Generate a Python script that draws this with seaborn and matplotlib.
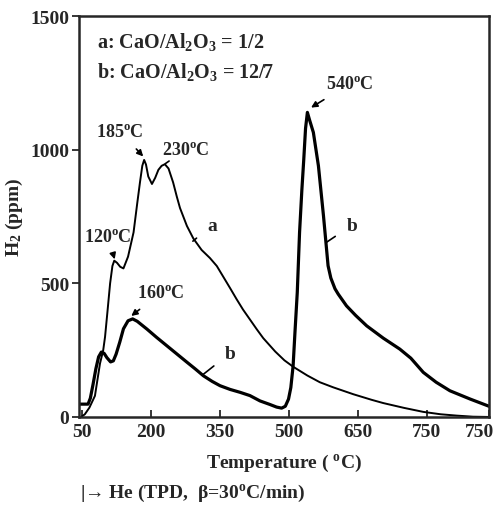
import numpy as np
import pandas as pd
import matplotlib
matplotlib.use("Agg")
import matplotlib.pyplot as plt
import matplotlib.transforms as mtransforms
import seaborn as sns

# TPD profiles of H2 (ppm) versus temperature
temp_a = [48, 56, 66, 78, 89, 96, 100, 105, 111, 116, 120, 126, 133, 140, 150,
          162, 170, 176, 181, 185, 189, 194, 202, 209, 216, 223, 230, 238, 248,
          256, 263, 278, 292, 310, 328, 343, 357, 372, 386, 400, 415, 430, 444,
          470, 490, 509, 540, 567, 596, 640, 680, 705, 750, 792, 830, 865, 900, 935]
h2_a = [0, 10, 35, 79, 200, 250, 300, 390, 500, 565, 585, 577, 562, 556, 600,
        691, 800, 879, 940, 962, 945, 900, 872, 895, 925, 940, 946, 930, 878,
        825, 782, 715, 668, 625, 595, 565, 525, 482, 441, 402, 365, 328, 295,
        245, 212, 188, 155, 130, 111, 85, 64, 52, 34, 19, 10, 5, 1, 0]

temp_b = [43, 63, 68, 74, 80, 86, 92, 98, 104, 112, 118, 124, 132, 140, 150,
          160, 170, 191, 212, 234, 256, 278, 296, 314, 333, 350, 372, 394, 415,
          437, 458, 473, 484, 492, 499, 504, 509, 513, 518, 523, 528, 532, 536,
          540, 545, 553, 564, 575, 585, 591, 600, 607, 625, 645, 669, 705, 741,
          765, 792, 820, 850, 894, 935]
h2_b = [48, 48, 70, 123, 180, 225, 243, 238, 222, 206, 210, 235, 280, 330, 360,
        367, 358, 329, 298, 267, 236, 205, 180, 154, 133, 117, 103, 92, 80,
        60, 47, 37, 33, 40, 67, 110, 192, 317, 466, 691, 850, 960, 1080,
        1140, 1110, 1065, 940, 753, 566, 520, 480, 460, 416, 380, 341, 295, 254,
        220, 167, 130, 98, 67, 40]

x_tick_labels = ["50", "200", "350", "500", "650", "750", "750"]
y_ticks = [0, 500, 1000, 1500]

peak_notes = [  # (text, text position, arrow tip)
    ("185$^{o}$C", (132, 1070), (183, 975)),
    ("120$^{o}$C", (106, 676), (121, 590)),
    ("160$^{o}$C", (222, 466), (157, 378)),
    ("540$^{o}$C", (633, 1248), (548, 1158)),
]

df = pd.concat([
    pd.DataFrame({"T": temp_a, "H2": h2_a, "sample": "a"}),
    pd.DataFrame({"T": temp_b, "H2": h2_b, "sample": "b"}),
])

sns.set_style("ticks")
serif = ["Liberation Serif", "DejaVu Serif"]
plt.rcParams["font.family"] = serif
plt.rcParams["font.weight"] = "bold"
plt.rcParams["axes.labelweight"] = "bold"
plt.rcParams["mathtext.default"] = "regular"

fig = plt.figure(figsize=(4.99, 5.06), dpi=100)
ax = fig.add_axes([0.158, 0.174, 0.822, 0.792])

sns.lineplot(data=df[df["sample"] == "a"], x="T", y="H2", ax=ax,
             color="black", lw=1.4, sort=False)
sns.lineplot(data=df[df["sample"] == "b"], x="T", y="H2", ax=ax,
             color="black", lw=2.3, sort=False)

ax.set_xlim(43, 935)
ax.set_ylim(0, 1500)
ax.set_xticks([50, 200, 350, 500, 650, 800, 935])
ax.set_xticklabels(x_tick_labels)
ax.set_yticks(y_ticks)
ax.set_yticklabels([str(v) for v in y_ticks])
ax.tick_params(axis="x", direction="in", length=5, width=1.3, pad=4,
               labelsize=14)
ax.tick_params(axis="y", direction="out", length=5, width=1.3, pad=2,
               labelsize=14)
for lab in ax.get_xticklabels() + ax.get_yticklabels():
    lab.set_fontweight("bold")
# pull the last x label in so it stays on the canvas
last = ax.get_xticklabels()[-1]
last.set_transform(last.get_transform() +
                   mtransforms.ScaledTranslation(-7 / 72, 0, fig.dpi_scale_trans))
for sp in ax.spines.values():
    sp.set_linewidth(1.8)
    sp.set_visible(True)

ax.set_xlabel("Temperature ( $^{o}$C)", fontsize=14, fontweight="bold",
              labelpad=9)
ax.set_ylabel("H$_2$ (ppm)", fontsize=14, fontweight="bold", labelpad=4)

ax.text(0.044, 0.922, "a: CaO/Al$_2$O$_3$ = 1/2", transform=ax.transAxes,
        fontsize=14.5, fontweight="bold", va="baseline")
ax.text(0.044, 0.848, "b: CaO/Al$_2$O$_3$ = 12/7", transform=ax.transAxes,
        fontsize=14.5, fontweight="bold", va="baseline")

for text, pos, tip in peak_notes:
    ax.annotate(text, xy=tip, xytext=pos, ha="center", va="center",
                fontsize=13, fontweight="bold",
                arrowprops=dict(arrowstyle="-|>", color="black", lw=1.2,
                                mutation_scale=9, shrinkA=6, shrinkB=0))

# plain tick-line callouts
ax.annotate("230$^{o}$C", xy=(231, 948), xytext=(276, 1002), ha="center",
            va="center", fontsize=13, fontweight="bold",
            arrowprops=dict(arrowstyle="-", color="black", lw=1.2,
                            shrinkA=8, shrinkB=0))
ax.annotate("a", xy=(291, 658), xytext=(333, 718), ha="center", va="center",
            fontsize=14, fontweight="bold",
            arrowprops=dict(arrowstyle="-", color="black", lw=1.2,
                            shrinkA=7, shrinkB=0))
ax.annotate("b", xy=(580, 652), xytext=(637, 718), ha="center", va="center",
            fontsize=14, fontweight="bold",
            arrowprops=dict(arrowstyle="-", color="black", lw=1.2,
                            shrinkA=7, shrinkB=0))
ax.annotate("b", xy=(311, 156), xytext=(372, 239), ha="center", va="center",
            fontsize=14, fontweight="bold",
            arrowprops=dict(arrowstyle="-", color="black", lw=1.2,
                            shrinkA=7, shrinkB=0))

fig.text(0.160, 0.016, "|\u2192 He (TPD,  \u03b2=30$^{o}$C/min)", fontsize=14,
         fontweight="bold", va="baseline", ha="left")

fig.savefig("out.png", dpi=100)
